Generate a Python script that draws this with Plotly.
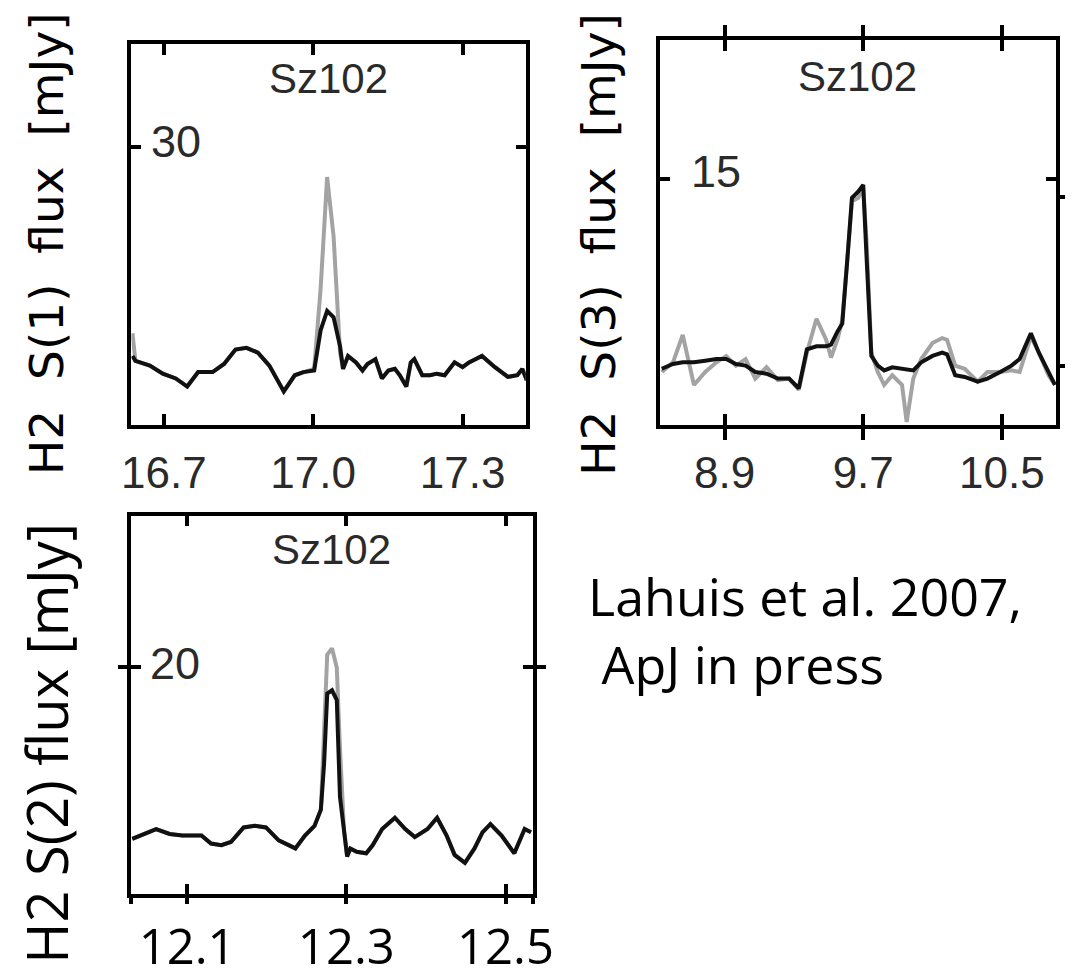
import plotly.graph_objects as go

W, H = 1083, 978

# ---------------- data ----------------
# Panel 1: H2 S(1), 17.03 micron
s1_wave = [16.637, 16.643, 16.672, 16.698, 16.724, 16.747, 16.769, 16.798, 16.821, 16.844,
           16.866, 16.889, 16.912, 16.941, 16.963, 16.980, 17.002, 17.015, 17.028, 17.041,
           17.054, 17.060, 17.070, 17.086, 17.099, 17.109, 17.125, 17.138, 17.151, 17.164,
           17.174, 17.187, 17.196, 17.203, 17.219, 17.235, 17.248, 17.264, 17.284, 17.300,
           17.313, 17.339, 17.365, 17.391, 17.410, 17.420, 17.429]
s1_black = [7.46, 6.93, 6.41, 5.54, 5.02, 4.15, 5.71, 5.71, 6.59, 8.15,
            8.33, 7.81, 6.41, 3.62, 5.37, 5.71, 5.89, 10.24, 12.33, 11.64,
            8.50, 6.06, 7.46, 6.76, 5.89, 6.59, 7.11, 5.02, 5.89, 6.06,
            5.37, 4.15, 6.76, 7.11, 5.37, 5.37, 5.54, 5.37, 6.76, 6.24,
            6.76, 7.46, 6.24, 5.19, 5.37, 6.06, 4.84]
s1_grey = [9.90, 6.93, 6.41, 5.54, 5.02, 4.15, 5.71, 5.71, 6.59, 8.15,
           8.33, 7.81, 6.41, 3.62, 5.37, 5.71, 6.06, 14.77, 26.79, 20.35,
           7.81, 6.06, 7.46, 6.76, 5.89, 6.59, 7.11, 5.02, 5.89, 6.06,
           5.37, 4.15, 6.76, 7.11, 5.37, 5.37, 5.54, 5.37, 6.76, 6.24,
           6.76, 7.46, 6.24, 5.19, 5.37, 6.06, 4.84]
s1_xticks = [16.7, 17.0, 17.3]
s1_xticklabels = ["16.7", "17.0", "17.3"]
s1_yticks = [30]
s1_yticklabels = ["30"]

# Panel 2: H2 S(3), 9.66 micron
s3_wave = [8.537, 8.602, 8.658, 8.723, 8.788, 8.853, 8.909, 8.965, 9.021, 9.077,
           9.142, 9.207, 9.272, 9.328, 9.375, 9.430, 9.486, 9.514, 9.551, 9.579,
           9.607, 9.635, 9.672, 9.700, 9.719, 9.747, 9.784, 9.821, 9.868, 9.924,
           9.951, 9.989, 10.035, 10.100, 10.156, 10.184, 10.231, 10.286, 10.361, 10.417,
           10.491, 10.556, 10.603, 10.668, 10.714, 10.770, 10.807]
s3_black = [3.43, 3.72, 3.82, 3.82, 3.92, 4.02, 4.02, 3.72, 3.62, 3.23,
            3.13, 2.83, 2.83, 2.24, 4.61, 4.80, 4.80, 4.90, 5.69, 6.18,
            9.92, 13.86, 14.25, 14.65, 10.31, 4.21, 3.62, 3.33, 3.52, 3.43,
            3.43, 3.33, 3.82, 4.21, 4.41, 4.31, 3.03, 2.93, 2.64, 2.83,
            3.23, 3.62, 4.02, 5.59, 4.41, 3.23, 2.44]
s3_grey = [3.23, 3.82, 5.49, 2.44, 3.23, 3.82, 4.21, 3.62, 4.02, 2.83,
           3.52, 2.74, 2.83, 2.15, 4.41, 6.48, 5.20, 4.11, 5.20, 6.38,
           9.92, 13.66, 13.86, 14.45, 11.30, 4.41, 3.23, 2.44, 3.03, 2.44,
           0.18, 2.83, 4.02, 5.00, 5.30, 5.20, 3.62, 3.43, 2.64, 3.23,
           3.23, 3.33, 3.23, 5.39, 4.41, 3.03, 2.44]
s3_xticks = [8.9, 9.7, 10.5]
s3_xticklabels = ["8.9", "9.7", "10.5"]
s3_yticks = [15]
s3_yticklabels = ["15"]
s3_right_ticks = [3.6, 13.9]

# Panel 3: H2 S(2), 12.28 micron
s2_wave = [12.031, 12.045, 12.061, 12.078, 12.094, 12.118, 12.130, 12.143, 12.155, 12.171,
           12.185, 12.199, 12.215, 12.236, 12.248, 12.260, 12.268, 12.272, 12.276, 12.282,
           12.288, 12.292, 12.297, 12.301, 12.305, 12.313, 12.325, 12.333, 12.345, 12.361,
           12.374, 12.386, 12.402, 12.414, 12.426, 12.436, 12.449, 12.461, 12.471, 12.481,
           12.495, 12.511, 12.524, 12.532]
s2_black = [4.84, 5.27, 5.70, 5.27, 5.13, 5.13, 4.42, 4.27, 4.56, 5.84,
            5.98, 5.84, 4.70, 3.99, 5.13, 5.98, 7.41, 11.40, 17.66, 17.95,
            17.09, 8.55, 5.70, 3.28, 3.99, 3.70, 3.56, 4.27, 5.70, 6.70,
            5.70, 4.99, 5.70, 6.70, 5.13, 3.42, 2.71, 3.99, 5.41, 6.13,
            5.13, 3.56, 5.70, 5.41]
s2_grey = [4.84, 5.27, 5.70, 5.27, 5.13, 5.13, 4.42, 4.27, 4.56, 5.84,
           5.98, 5.84, 4.70, 3.99, 5.13, 5.98, 7.41, 14.25, 21.08, 21.65,
           19.94, 12.82, 5.70, 3.28, 3.99, 3.70, 3.56, 4.27, 5.70, 6.70,
           5.70, 4.99, 5.70, 6.70, 5.13, 3.42, 2.71, 3.99, 5.41, 6.13,
           5.13, 3.56, 5.70, 5.41]
s2_xticks = [12.1, 12.3, 12.5]
s2_xticklabels = ["12.1", "12.3", "12.5"]
s2_yticks = [20]
s2_yticklabels = ["20"]

source = "Sz102"
ylabel1 = "H2\u00a0\u00a0S(1)\u00a0\u00a0flux\u00a0\u00a0[mJy]"
ylabel3 = "H2\u00a0\u00a0S(3)\u00a0\u00a0flux\u00a0\u00a0[mJy]"
ylabel2 = "H2 S(2) flux [mJy]"
reference = "Lahuis et al. 2007,<br>\u00a0ApJ in press"

# ---------------- layout helpers ----------------
def fx(p):
    return p / W

def fy(p):
    return 1 - p / H

BLACK = "#111111"
GREY = "#a3a3a3"
SMALL_FONT = dict(family="Liberation Sans, Arial, sans-serif", size=44, color="#2a2a2a")

fig = go.Figure()

def add_pair(wave, grey, black, xa, ya):
    fig.add_trace(go.Scatter(x=wave, y=grey, mode="lines", xaxis=xa, yaxis=ya,
                             line=dict(color=GREY, width=4), showlegend=False, hoverinfo="skip"))
    fig.add_trace(go.Scatter(x=wave, y=black, mode="lines", xaxis=xa, yaxis=ya,
                             line=dict(color=BLACK, width=4), showlegend=False, hoverinfo="skip"))

add_pair(s1_wave, s1_grey, s1_black, "x", "y")
add_pair(s3_wave, s3_grey, s3_black, "x2", "y2")
add_pair(s2_wave, s2_grey, s2_black, "x3", "y3")
# empty traces so the decorative overlay axes are drawn
fig.add_trace(go.Scatter(x=[], y=[], xaxis="x2", yaxis="y4", showlegend=False))
fig.add_trace(go.Scatter(x=[], y=[], xaxis="x5", yaxis="y3", showlegend=False))

common_x = dict(showgrid=False, zeroline=False, showline=True, linecolor="black",
                ticks="inside", mirror="allticks", tickcolor="black", fixedrange=True)
common_y = dict(showgrid=False, zeroline=False, showline=True, linecolor="black",
                ticks="inside", mirror="allticks", tickcolor="black", fixedrange=True,
                showticklabels=False)

fig.update_layout(
    width=W, height=H, margin=dict(l=0, r=0, t=0, b=0),
    paper_bgcolor="white", plot_bgcolor="white", showlegend=False,
    xaxis=dict(common_x, domain=[fx(125), fx(531)], range=[16.635, 17.427], anchor="y",
               tickvals=s1_xticks, ticktext=s1_xticklabels, tickfont=SMALL_FONT,
               linewidth=4, tickwidth=4, ticklen=11, ticklabelstandoff=6),
    yaxis=dict(common_y, domain=[fy(437), fy(45)], range=[0, 41.2], anchor="x",
               tickvals=s1_yticks, linewidth=4, tickwidth=4, ticklen=10),
    xaxis2=dict(common_x, domain=[fx(669), fx(1077)], range=[8.526, 10.814], anchor="y2",
                tickvals=s3_xticks, ticktext=s3_xticklabels, tickfont=SMALL_FONT,
                linewidth=4, tickwidth=4, ticklen=11, ticklabelstandoff=6),
    yaxis2=dict(common_y, domain=[fy(437), fy(41)], range=[0, 23.5], anchor="x2",
                tickvals=s3_yticks, linewidth=4, tickwidth=4, ticklen=10),
    yaxis4=dict(overlaying="y2", anchor="x2", side="right", range=[0, 23.5],
                showgrid=False, zeroline=False, showline=False, showticklabels=False,
                ticks="outside", tickvals=s3_right_ticks, ticklen=8, tickwidth=4,
                tickcolor="black", fixedrange=True),
    xaxis3=dict(common_x, domain=[fx(125), fx(538)], range=[12.030, 12.534], anchor="y3",
                tickvals=s2_xticks, ticktext=s2_xticklabels,
                tickfont=dict(family="Open Sans, sans-serif", size=49, color="black"),
                linewidth=3.5, tickwidth=3.5, ticklen=10, ticklabelstandoff=8),
    xaxis5=dict(overlaying="x3", anchor="y3", side="bottom", range=[12.030, 12.534],
                showgrid=False, zeroline=False, showline=False, showticklabels=False,
                ticks="outside", tickvals=[12.030] + s2_xticks + [12.534],
                ticklen=9, tickwidth=3.5, tickcolor="black", fixedrange=True),
    yaxis3=dict(common_y, domain=[fy(919), fy(531)], range=[0, 33.3], anchor="x3",
                tickvals=s2_yticks, linewidth=3.5, tickwidth=3.5, ticklen=10),
)

annotations = []
# panel titles
for xc, yc in [(328, 81), (872, 79), (331, 565)]:
    annotations.append(dict(text=source, x=fx(xc), y=fy(yc), xref="paper", yref="paper",
                            xanchor="center", yanchor="middle", showarrow=False,
                            font=dict(SMALL_FONT, size=42)))

# y tick labels drawn inside the frame, positioned on the y scale
for yref, vals, labels, xleft, shift in [("y", s1_yticks, s1_yticklabels, 143, 6),
                                         ("y2", s3_yticks, s3_yticklabels, 699, 8),
                                         ("y3", s2_yticks, s2_yticklabels, 142, 4)]:
    for v, lab in zip(vals, labels):
        annotations.append(dict(text=lab, x=fx(xleft), y=v, xref="paper", yref=yref,
                                xanchor="left", yanchor="middle", yshift=shift,
                                showarrow=False, font=dict(SMALL_FONT, size=45)))

ylab_small = dict(family="DejaVu Sans, sans-serif", size=47, color="black")
annotations.append(dict(text=ylabel1, x=fx(37), y=fy(250), xref="paper", yref="paper",
                        xanchor="center", yanchor="middle", textangle=-90, showarrow=False,
                        font=ylab_small))
annotations.append(dict(text=ylabel3, x=fx(605), y=fy(251), xref="paper", yref="paper",
                        xanchor="center", yanchor="middle", textangle=-90, showarrow=False,
                        font=ylab_small))
annotations.append(dict(text=ylabel2, x=fx(37), y=fy(764), xref="paper", yref="paper",
                        xanchor="center", yanchor="middle", textangle=-90, showarrow=False,
                        font=dict(family="Open Sans, sans-serif", size=56, color="black")))
annotations.append(dict(text=reference, x=fx(593), y=fy(574), xref="paper", yref="paper",
                        xanchor="left", yanchor="top", align="left", showarrow=False,
                        font=dict(family="Open Sans, sans-serif", size=52, color="black")))
fig.update_layout(annotations=annotations)

fig.write_html("out.html")
